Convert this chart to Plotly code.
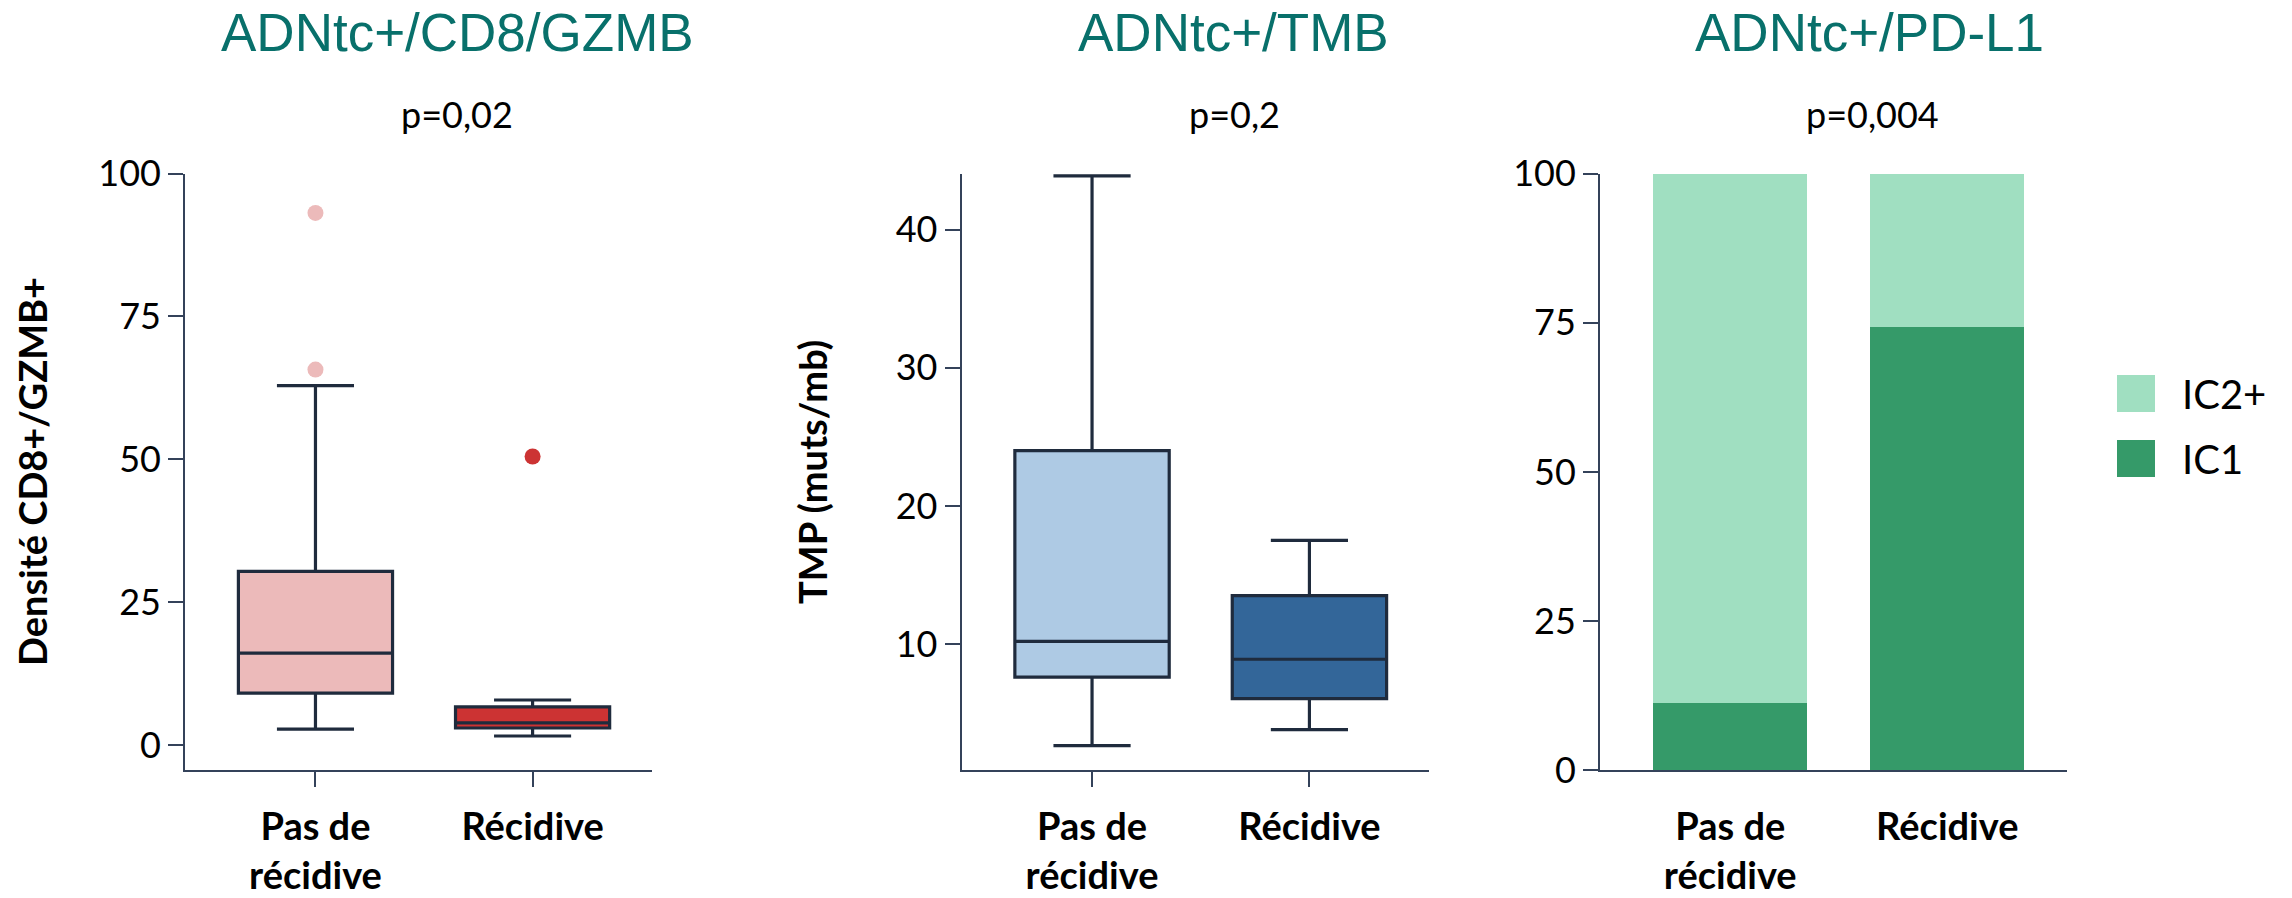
import plotly.graph_objects as go
from plotly.subplots import make_subplots

# categories
groups = ["Pas de<br>récidive", "Récidive"]

# panel 1 : Densité CD8+/GZMB+ (boxes, precomputed stats)
cd8_q1 = [9.1, 3.0]
cd8_median = [16.1, 3.9]
cd8_q3 = [30.4, 6.7]
cd8_low = [2.8, 1.6]
cd8_high = [62.9, 7.9]
cd8_outliers = [[93.1, 65.7], [50.5]]
cd8_colors = ["#ecbaba", "#cc3333"]

# panel 2 : TMB
tmb_q1 = [7.6, 6.05]
tmb_median = [10.2, 8.9]
tmb_q3 = [24.0, 13.5]
tmb_low = [2.65, 3.8]
tmb_high = [43.9, 17.5]
tmb_colors = ["#aecae4", "#336699"]

# panel 3 : PD-L1 (stacked %)
ic1 = [11.2, 74.3]
ic2 = [100 - v for v in ic1]
pd_names = ["IC2+", "IC1"]
pd_colors = ["#a0dfc1", "#359a69"]

titles = ["ADNtc+/CD8/GZMB", "ADNtc+/TMB", "ADNtc+/PD-L1"]
pvals = ["p=0,02", "p=0,2", "p=0,004"]
ytitles = ["Densité CD8+/GZMB+", "TMP (muts/mb)"]

LINE = "#1f2b3d"
AXIS = "#34425a"
TEAL = "#08706b"

# page has an 8px body margin, so work in page pixels
W, H, OFF = 2284, 890, 8
def px(x):
    return (x - OFF) / W
def py(y):
    return 1 - (y - OFF) / H

fig = make_subplots(rows=1, cols=3)

for i, g in enumerate(groups):
    fig.add_trace(go.Box(x=[g], q1=[cd8_q1[i]], median=[cd8_median[i]], q3=[cd8_q3[i]],
                         lowerfence=[cd8_low[i]], upperfence=[cd8_high[i]],
                         fillcolor=cd8_colors[i], line=dict(color=LINE, width=3.2),
                         width=0.71, boxpoints=False, showlegend=False), row=1, col=1)
    fig.add_trace(go.Scatter(x=[g] * len(cd8_outliers[i]), y=cd8_outliers[i], mode="markers",
                             marker=dict(color=cd8_colors[i], size=16), showlegend=False), row=1, col=1)
    fig.add_trace(go.Box(x=[g], q1=[tmb_q1[i]], median=[tmb_median[i]], q3=[tmb_q3[i]],
                         lowerfence=[tmb_low[i]], upperfence=[tmb_high[i]],
                         fillcolor=tmb_colors[i], line=dict(color=LINE, width=3.2),
                         width=0.71, boxpoints=False, showlegend=False), row=1, col=2)

fig.add_trace(go.Bar(x=groups, y=ic1, name="IC1", marker=dict(color=pd_colors[1], line_width=0),
                     width=0.71, showlegend=False), row=1, col=3)
fig.add_trace(go.Bar(x=groups, y=ic2, name="IC2+", marker=dict(color=pd_colors[0], line_width=0),
                     width=0.71, showlegend=False), row=1, col=3)

ydom = [py(770.3), py(173.5)]
xdoms = [[px(185.2), px(652)], [px(961.6), px(1429)], [px(1600), px(2066.7)]]
yranges = [[-4.4, 100], [0.86, 44.07], [0, 100]]
ytickvals = [[0, 25, 50, 75, 100], [10, 20, 30, 40], [0, 25, 50, 75, 100]]
xticks = ["outside", "outside", ""]

for c in range(3):
    fig.update_xaxes(domain=xdoms[c], range=[-0.6, 1.55], showline=True, linecolor=AXIS, linewidth=2,
                     ticks=xticks[c], ticklen=15, tickwidth=2, tickcolor=AXIS, showgrid=False,
                     tickfont=dict(family="Lato", size=38, color="black", weight="bold"),
                     ticklabelstandoff=22 if c == 2 else 7, automargin=False, row=1, col=c + 1)
    fig.update_yaxes(domain=ydom, range=yranges[c], tickvals=ytickvals[c], showline=True, linecolor=AXIS,
                     linewidth=2, ticks="outside", ticklen=15, tickwidth=2, tickcolor=AXIS, showgrid=False,
                     zeroline=False, tickfont=dict(family="Lato", size=36, color="black"),
                     automargin=False, row=1, col=c + 1)

# titles and p-values
title_x = [457, 1233, 1869]
pval_x = [457, 1234, 1872]
for c in range(3):
    fig.add_annotation(text=titles[c], x=px(title_x[c]), y=py(33), xref="paper", yref="paper",
                       xanchor="center", yanchor="middle", showarrow=False,
                       font=dict(family="Liberation Sans", size=53, color=TEAL))
    fig.add_annotation(text=pvals[c], x=px(pval_x[c]), y=py(114), xref="paper", yref="paper",
                       xanchor="center", yanchor="middle", showarrow=False,
                       font=dict(family="Lato", size=36, color="black"))

# y axis titles
ytitle_x = [32, 812]
for c in range(2):
    fig.add_annotation(text=ytitles[c], x=px(ytitle_x[c]), y=py(472), xref="paper", yref="paper",
                       xanchor="center", yanchor="middle", textangle=-90, showarrow=False,
                       font=dict(family="Lato", size=38, color="black", weight="bold"))

# legend for panel 3 (big square swatches)
leg_top = [375, 440]
for k in range(2):
    fig.add_shape(type="rect", xref="paper", yref="paper", x0=px(2117), x1=px(2155),
                  y0=py(leg_top[k] + 37), y1=py(leg_top[k]), fillcolor=pd_colors[k], line_width=0)
    fig.add_annotation(text=pd_names[k], x=px(2180), y=py(leg_top[k] + 19), xref="paper", yref="paper",
                       xanchor="left", yanchor="middle", showarrow=False,
                       font=dict(family="Lato", size=40, color="black"))

fig.update_layout(width=W, height=H, margin=dict(l=0, r=0, t=0, b=0, autoexpand=False),
                  plot_bgcolor="white", paper_bgcolor="white", boxmode="overlay", barmode="stack",
                  showlegend=False)

fig.write_html("out.html")
